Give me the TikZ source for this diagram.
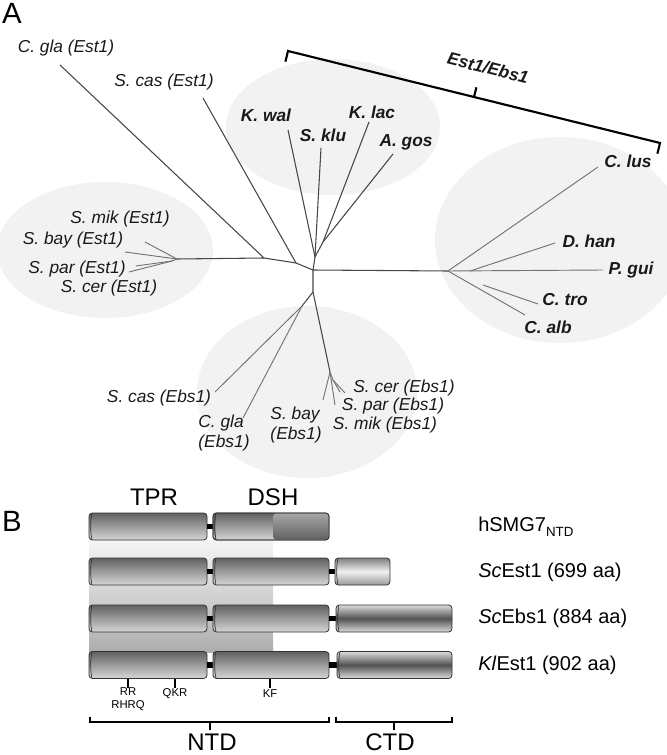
\documentclass[tikz,border=0pt]{standalone}
\usepackage{fontspec}
\setmainfont{Liberation Sans}
\newcommand\protseg[4]{%
  \shade[#4, draw=black!80, line width=0.6pt, rounded corners=2.5] (#1,#3-13.5) rectangle (#2,#3+13.5);
  \draw[black!80, line width=0.5pt] (#1+3,#3-13) .. controls (#1+1.2,#3-6) and (#1+1.2,#3+6) .. (#1+3,#3+13);
}
\newcommand\protlink[3]{%
  \fill[black] (#1,#3-2.6) rectangle (#2,#3+2.6);
}
\begin{document}
\begin{tikzpicture}[x=0.75pt,y=-0.75pt,
  tl/.style={font=\fontsize{13}{15}\selectfont\itshape, inner sep=0pt, text=black!90},
  tb/.style={font=\fontsize{13}{15}\selectfont\bfseries\itshape, inner sep=0pt, text=black!90},
  br/.style={draw=black!72, line width=0.8pt},
  lf/.style={draw=black!55, line width=0.7pt},
  blob/.style={fill=gray!10},
  panel/.style={font=\fontsize{22}{22}\selectfont, inner sep=0pt},
  seglab/.style={font=\fontsize{15}{18}\selectfont, anchor=west, inner sep=0pt},
  dom/.style={font=\fontsize{18}{20}\selectfont, inner sep=0pt},
  site/.style={font=\fontsize{8.5}{9.5}\selectfont, inner sep=0pt, align=center},
  brk/.style={draw=black, line width=1.6pt},
  segshade/.style={top color=black!62, bottom color=black!16},
  darkpart/.style={top color=black!35, bottom color=black!62},
  lightctd/.style={top color=black!50, bottom color=black!40, middle color=black!6},
  darkctd/.style={top color=black!14, bottom color=black!14, middle color=black!68},
  ]
\useasboundingbox (0,0) rectangle (666,755);

% ---------- Panel A ----------
\node[panel] (lblA) at (12,13) {A};

\fill[blob] (333,127) ellipse [x radius=107, y radius=68];
\fill[blob] (560,240) ellipse [x radius=125, y radius=103];
\fill[blob] (105,250) ellipse [x radius=108, y radius=68];
\fill[blob] (307,392) ellipse [x radius=110, y radius=86];

% internal nodes
\coordinate (c0) at (313,270);
\coordinate (cu) at (315,257);
\coordinate (cu2) at (323,242);
\coordinate (cl1) at (296,263);
\coordinate (cl2) at (264,258);
\coordinate (cL) at (177,259);
\coordinate (cL2) at (172,261);
\coordinate (cR) at (448,271);
\coordinate (cR2) at (470,271);
\coordinate (cR3) at (483,285);
\coordinate (cd) at (313,292);
\coordinate (cd2) at (302,306);
\coordinate (cB) at (330,372);
\coordinate (cB2) at (333,380);

% leaf ends
\coordinate (eCglaEst) at (60,65);
\coordinate (eScasEst) at (203,98);
\coordinate (eKwal) at (288,130);
\coordinate (eSklu) at (321,148);
\coordinate (eKlac) at (369,122);
\coordinate (eAgos) at (393,154);
\coordinate (eClus) at (598,167);
\coordinate (eDhan) at (555,243);
\coordinate (ePgui) at (603,270);
\coordinate (eCtro) at (538,304);
\coordinate (eCalb) at (525,315);
\coordinate (eSmikE) at (145,242);
\coordinate (eSbayE) at (125,252);
\coordinate (eSparE) at (129,272);
\coordinate (eScerE) at (136,266);
\coordinate (eScasEbs) at (215,392);
\coordinate (eCglaEbs) at (243,418);
\coordinate (eSbayEbs) at (323,400);
\coordinate (eSmikEbs) at (335,405);
\coordinate (eSparEbs) at (340,392);
\coordinate (eScerEbs) at (345,393);

% branches
\draw[br] (c0) -- (cu) -- (cu2);
\draw[br] (c0) -- (cl1) -- (cl2) -- (cL);
\draw[br] (c0) -- (cR);
\draw[br] (c0) -- (cd) -- (cd2);
\draw[br] (cd) -- (cB);
\draw[br] (cl2) -- (eCglaEst);
\draw[br] (cl1) -- (eScasEst);
\draw[br] (cu) -- (eKwal);
\draw[br] (cu) -- (eSklu);
\draw[br] (cu2) -- (eKlac);
\draw[br] (cu2) -- (eAgos);
\draw[lf] (cR) -- (eClus);
\draw[lf] (cR) -- (ePgui);
\draw[lf] (cR2) -- (eDhan);
\draw[lf] (cR) -- (eCalb);
\draw[lf] (cR3) -- (eCtro);
\draw[lf] (cL) -- (eSmikE);
\draw[lf] (cL) -- (eSbayE);
\draw[lf] (cL) -- (cL2);
\draw[lf] (cL2) -- (eSparE);
\draw[lf] (cL2) -- (eScerE);
\draw[lf] (cd2) -- (eScasEbs);
\draw[lf] (cd2) -- (eCglaEbs);
\draw[lf] (cB) -- (eSbayEbs);
\draw[lf] (cB) -- (eSmikEbs);
\draw[lf] (cB) -- (cB2);
\draw[lf] (cB2) -- (eSparEbs);
\draw[lf] (cB2) -- (eScerEbs);

% labels
\node[tl] (nCglaEst) at (66,48) {C. gla (Est1)};
\node[tl] (nScasEst) at (164,82) {S. cas (Est1)};
\node[tb] (nKwal) at (266,115) {K. wal};
\node[tb] (nSklu) at (323,135) {S. klu};
\node[tb] (nKlac) at (372,112) {K. lac};
\node[tb] (nAgos) at (406,142) {A. gos};
\node[tb] (nClus) at (628,161) {C. lus};
\node[tb] (nDhan) at (589,241) {D. han};
\node[tb] (nPgui) at (631,270) {P. gui};
\node[tb] (nCtro) at (565,300) {C. tro};
\node[tb] (nCalb) at (548,327) {C. alb};
\node[tl] (nSmikE) at (120,219) {S. mik (Est1)};
\node[tl] (nSbayE) at (73,240) {S. bay (Est1)};
\node[tl] (nSparE) at (77,269) {S. par (Est1)};
\node[tl] (nScerE) at (109,288) {S. cer (Est1)};
\node[tl] (nScasEbs) at (159,398) {S. cas (Ebs1)};
\node[tl, align=left] (nCglaEbs) at (224,433) {C. gla\\(Ebs1)};
\node[tl, align=left] (nSbayEbs) at (296,425) {S. bay\\(Ebs1)};
\node[tl] (nScerEbs) at (404,388) {S. cer (Ebs1)};
\node[tl] (nSparEbs) at (393,406) {S. par (Ebs1)};
\node[tl] (nSmikEbs) at (385,425) {S. mik (Ebs1)};

% Est1/Ebs1 bracket
\coordinate (bL) at (288,51);
\coordinate (bR) at (660,143);
\coordinate (bLt) at (285.4,61.7);
\coordinate (bRt) at (657.4,153.7);
\coordinate (bM) at (474,97);
\coordinate (bMt) at (476.4,87.3);
\draw[brk, line join=miter] (bLt) -- (bL) -- (bR) -- (bRt);
\draw[brk] (bM) -- (bMt);
\node[tb, rotate=-14] (nEE) at (488,68) {Est1/Ebs1};

% ---------- Panel B ----------
\node[panel] (lblB) at (12,521) {B};
\node[dom] (nTPR) at (154,497) {TPR};
\node[dom] (nDSH) at (273,497) {DSH};

\shade[top color=gray!8, bottom color=gray!64] (89,540) rectangle (273,652);

% row 1: hSMG7
\protseg{89}{207}{526.5}{segshade}
\protlink{207}{213}{526.5}
\protseg{213}{329}{526.5}{segshade}
\shade[darkpart, rounded corners=2.5] (273,513.3) rectangle (328.7,539.7);
\draw[black!80, line width=0.6pt, rounded corners=2.5] (213,513) rectangle (329,540);
\draw[black!80, line width=0.5pt] (216,513.5) .. controls (214.2,520.5) and (214.2,532.5) .. (216,539.5);

% row 2: ScEst1
\protseg{89}{207}{571.5}{segshade}
\protlink{207}{213}{571.5}
\protseg{213}{329}{571.5}{segshade}
\protlink{329}{335}{571.5}
\protseg{335}{390}{571.5}{lightctd}

% row 3: ScEbs1
\protseg{89}{207}{618.5}{segshade}
\protlink{207}{213}{618.5}
\protseg{213}{329}{618.5}{segshade}
\protlink{329}{336}{618.5}
\protseg{336}{452}{618.5}{darkctd}

% row 4: KlEst1
\protseg{89}{207}{665}{segshade}
\protlink{207}{213}{665}
\protseg{213}{329}{665}{segshade}
\protlink{329}{337}{665}
\protseg{337}{452}{665}{darkctd}

% row labels
\node[seglab] (nH) at (478,527) {hSMG7\raisebox{-0.45ex}{\fontsize{10}{10}\selectfont NTD}};
\node[seglab] (nSc1) at (478,572) {\textit{Sc}Est1 (699 aa)};
\node[seglab] (nSc2) at (478,618.5) {\textit{Sc}Ebs1 (884 aa)};
\node[seglab] (nKl) at (478,665) {\textit{Kl}Est1 (902 aa)};

% sites
\draw[line width=1.1pt] (128,678.5) -- (128,688);
\draw[line width=1.1pt] (175,678.5) -- (175,688);
\draw[line width=1.1pt] (270,678.5) -- (270,688);
\node[site] (sRR) at (128,699) {RR\\RHRQ};
\node[site] (sQKR) at (175,694) {QKR};
\node[site] (sKF) at (270,694) {KF};

% domain brackets
\draw[brk] (90,716.5) -- (90,722) -- (329,722) -- (329,716.5);
\draw[brk] (210,722) -- (210,730);
\draw[brk] (336,716.5) -- (336,722) -- (452,722) -- (452,716.5);
\draw[brk] (394,722) -- (394,730);
\node[dom] (nNTD) at (212,742) {NTD};
\node[dom] (nCTD) at (390,742) {CTD};
\end{tikzpicture}
\end{document}
